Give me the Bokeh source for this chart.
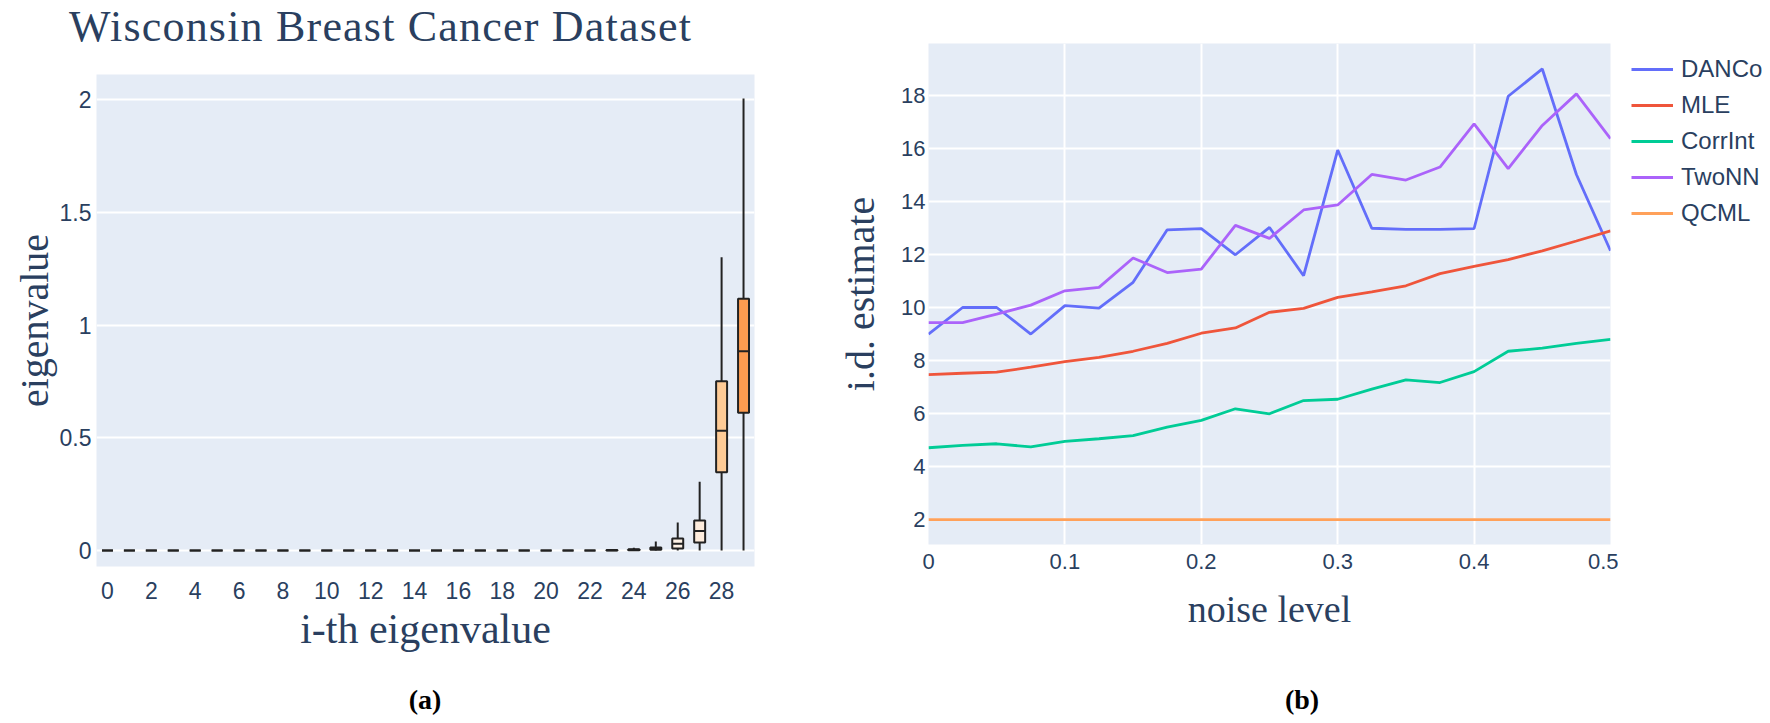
from bokeh.plotting import figure
from bokeh.models import (ColumnDataSource, FixedTicker, CustomJSTickFormatter,
                          Legend, LegendItem, Range1d, Div)
from bokeh.layouts import row, column
from bokeh.embed import file_html
from bokeh.resources import INLINE

# ---------------- data: panel (a) ----------------
eig_index = list(range(30))
eig_low = [0.0] * 30
eig_q1 = [0.0] * 23 + [0.0, 0.001, 0.003, 0.009, 0.035, 0.347, 0.611]
eig_med = [0.0] * 23 + [0.001, 0.003, 0.007, 0.030, 0.086, 0.531, 0.884]
eig_q3 = [0.0] * 23 + [0.002, 0.006, 0.013, 0.053, 0.133, 0.751, 1.117]
eig_high = [0.0] * 23 + [0.004, 0.012, 0.040, 0.124, 0.305, 1.301, 2.005]
box_colors = ["#fef6ee"] * 26 + ["#fef2e6", "#feecdc", "#fecb96", "#fe9c50"]
eig_xticks = list(range(0, 30, 2))
eig_yticks = [0, 0.5, 1, 1.5, 2]

# ---------------- data: panel (b) ----------------
noise = [0, 0.025, 0.05, 0.075, 0.1, 0.125, 0.15, 0.175, 0.2, 0.225, 0.25,
         0.275, 0.3, 0.325, 0.35, 0.375, 0.4, 0.425, 0.45, 0.475, 0.5]
danco = [9.0, 10.0, 10.0, 9.0, 10.07, 9.98, 10.95, 12.93, 12.98, 11.99, 13.02,
         11.2, 15.94, 12.99, 12.95, 12.95, 12.98, 17.97, 19.0, 15.02, 12.14]
mle = [7.47, 7.52, 7.56, 7.75, 7.96, 8.12, 8.35, 8.65, 9.03, 9.23, 9.82,
       9.97, 10.38, 10.59, 10.82, 11.28, 11.55, 11.81, 12.14, 12.51, 12.89]
corrint = [4.71, 4.80, 4.86, 4.74, 4.95, 5.05, 5.17, 5.49, 5.74, 6.18, 5.99,
           6.49, 6.54, 6.92, 7.27, 7.17, 7.58, 8.35, 8.47, 8.65, 8.80]
twonn = [9.43, 9.43, 9.75, 10.09, 10.63, 10.76, 11.87, 11.32, 11.45, 13.1, 12.61,
         13.68, 13.87, 15.02, 14.81, 15.3, 16.93, 15.24, 16.87, 18.06, 16.37]
qcml = [2.0] * 21
series_names = ["DANCo", "MLE", "CorrInt", "TwoNN", "QCML"]
series_colors = ["#636EFA", "#EF553B", "#00CC96", "#AB63FA", "#FFA15A"]
noise_xticks = [0, 0.1, 0.2, 0.3, 0.4, 0.5]
noise_yticks = [2, 4, 6, 8, 10, 12, 14, 16, 18]

TXT = "#2a3f5f"
BG = "#E5ECF6"
SANS = "Liberation Sans"
SERIF = "Liberation Serif"
fmt = CustomJSTickFormatter(code="return String(Math.round(tick*1000)/1000);")


def style_axes(p, tick_size):
    for ax in (p.xaxis[0], p.yaxis[0]):
        ax.axis_line_color = None
        ax.major_tick_line_color = None
        ax.minor_tick_line_color = None
        ax.major_tick_out = 0
        ax.major_tick_in = 0
        ax.minor_tick_out = 0
        ax.minor_tick_in = 0
        ax.major_label_text_font = SANS
        ax.major_label_text_font_size = tick_size
        ax.major_label_text_color = TXT
        ax.axis_label_text_font = SERIF
        ax.axis_label_text_font_style = "normal"
        ax.axis_label_text_color = TXT
        ax.formatter = fmt


def html_text(txt, size, weight, color, extra=""):
    return ('<div style="font-family:\'Liberation Serif\',serif;font-size:%s;font-weight:%s;'
            'color:%s;white-space:nowrap;%s">%s</div>' % (size, weight, color, extra, txt))


# ---------------- title ----------------
title_div = Div(text=html_text("Wisconsin Breast Cancer Dataset", "44px", "normal", TXT,
                               "line-height:32px;letter-spacing:1.2px;padding-left:61px;"
                               "padding-top:3px;"),
                width=796, height=50, margin=(0, 0, 0, 0))

# ---------------- panel (a) ----------------
p1 = figure(width=796, height=627, x_range=Range1d(-0.5, 29.5),
            y_range=Range1d(-0.071, 2.111), output_backend="svg",
            toolbar_location=None, min_border_left=85, min_border_right=50,
            min_border_top=16, min_border_bottom=119)
p1.background_fill_color = BG
p1.border_fill_color = "white"
p1.outline_line_color = None
p1.xgrid.visible = False
p1.ygrid.grid_line_color = "white"
p1.ygrid.grid_line_width = 2
style_axes(p1, "23px")
p1.xaxis.ticker = FixedTicker(ticks=eig_xticks)
p1.yaxis.ticker = FixedTicker(ticks=eig_yticks)
p1.xaxis.axis_label = "i-th eigenvalue"
p1.yaxis.axis_label = "eigenvalue"
p1.xaxis.axis_label_text_font_size = "42px"
p1.yaxis.axis_label_text_font_size = "40px"
p1.xaxis.major_label_standoff = 15
p1.yaxis.major_label_standoff = 5
p1.xaxis.axis_label_standoff = 4
p1.yaxis.axis_label_standoff = 0

half_w = 0.25
src_a = ColumnDataSource(dict(
    x=eig_index, lo=eig_low, q1=eig_q1, med=eig_med, q3=eig_q3, hi=eig_high,
    xl=[i - half_w for i in eig_index], xr=[i + half_w for i in eig_index],
    color=box_colors))
p1.segment(x0="x", y0="q3", x1="x", y1="hi", line_color="#222222", line_width=2, source=src_a)
p1.segment(x0="x", y0="lo", x1="x", y1="q1", line_color="#222222", line_width=2, source=src_a)
p1.vbar(x="x", width=2 * half_w, bottom="q1", top="q3", fill_color="color",
        line_color="#222222", line_width=2, source=src_a)
p1.segment(x0="xl", y0="med", x1="xr", y1="med", line_color="#222222", line_width=2, source=src_a)

# ---------------- panel (b) ----------------
p2 = figure(width=814, height=677, x_range=Range1d(0, 0.5), y_range=Range1d(1.06, 19.96),
            output_backend="svg", toolbar_location=None, min_border_left=124,
            min_border_right=8, min_border_top=35, min_border_bottom=141)
p2.background_fill_color = BG
p2.border_fill_color = "white"
p2.outline_line_color = None
p2.grid.grid_line_color = "white"
p2.grid.grid_line_width = 2
style_axes(p2, "22px")
p2.xaxis.ticker = FixedTicker(ticks=noise_xticks)
p2.yaxis.ticker = FixedTicker(ticks=noise_yticks)
p2.xaxis.axis_label = "noise level"
p2.yaxis.axis_label = "i.d. estimate"
p2.xaxis.axis_label_text_font_size = "38px"
p2.yaxis.axis_label_text_font_size = "40px"
p2.xaxis.major_label_standoff = 9
p2.yaxis.major_label_standoff = 3
p2.xaxis.axis_label_standoff = 16
p2.yaxis.axis_label_standoff = 15

all_series = [danco, mle, corrint, twonn, qcml]
for ys, col in zip(all_series, series_colors):
    p2.line(noise, ys, line_color=col, line_width=2.8)

# ---------------- legend (own canvas, right of panel b) ----------------
p3 = figure(width=150, height=677, x_range=Range1d(10, 11), y_range=Range1d(0, 1),
            output_backend="svg", toolbar_location=None, x_axis_location=None,
            y_axis_location=None, min_border=0)
p3.grid.visible = False
p3.outline_line_color = None
p3.background_fill_color = "white"
p3.border_fill_color = "white"
items = []
for name, ys, col in zip(series_names, all_series, series_colors):
    r = p3.line(noise, ys, line_color=col, line_width=2.8)
    items.append(LegendItem(label=name, renderers=[r]))
legend = Legend(items=items, location=(13, 454), margin=0, padding=0,
                glyph_width=42, glyph_height=36, label_height=36, spacing=0,
                label_standoff=8, label_text_font=SANS, label_text_font_size="24px",
                label_text_color=TXT, border_line_color=None,
                background_fill_alpha=0)
p3.add_layout(legend)

# ---------------- captions ----------------
cap_a = Div(text=html_text("(a)", "28px", "bold", "black",
                           "line-height:30px;text-align:center;width:834px;"),
            width=834, height=30, margin=(0, 0, 0, 0))
cap_b = Div(text=html_text("(b)", "28px", "bold", "black",
                           "line-height:30px;text-align:center;width:920px;"),
            width=920, height=30, margin=(0, 0, 0, 0))

layout = column(row(column(title_div, p1), column(p2), column(p3)), row(cap_a, cap_b),
                margin=(8, 0, 0, 8))
open("out.html", "w").write(file_html(layout, INLINE))
